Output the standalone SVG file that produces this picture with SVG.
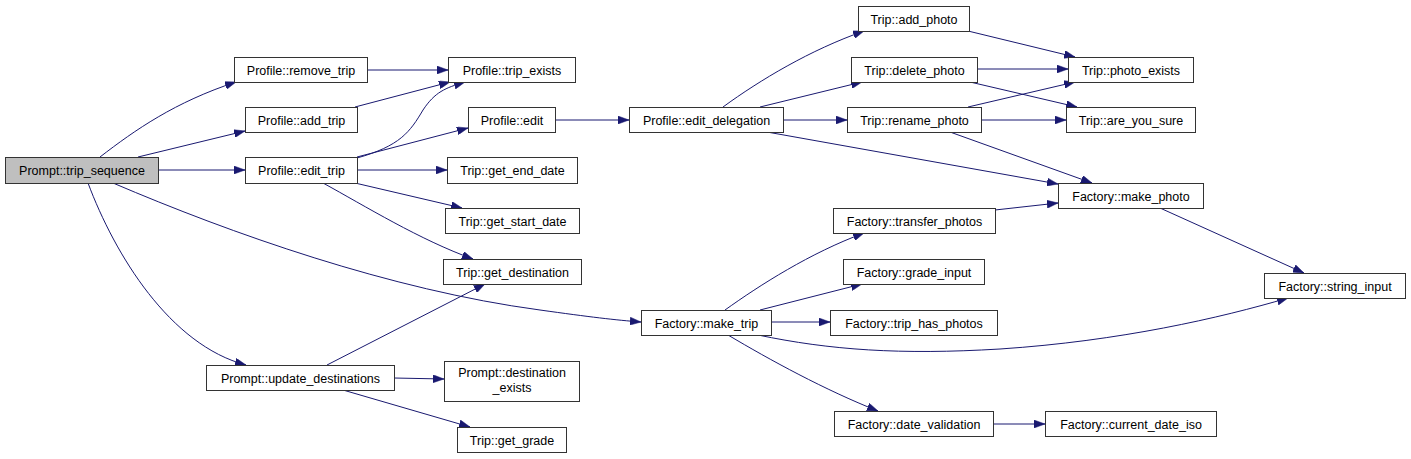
<svg xmlns="http://www.w3.org/2000/svg" width="1411" height="459" viewBox="0 0 1411 459">
<defs>
<style>
.n rect{fill:#ffffff;stroke:#333333;stroke-width:1}
.n.root rect{fill:#bfbfbf}
.n text{font-family:"Liberation Sans",Arial,sans-serif;font-size:12.5px;fill:#000000;text-anchor:middle}
.e path{fill:none;stroke:#191970;stroke-width:1;marker-end:url(#ah)}
</style>
<marker id="ah" viewBox="0 0 11 8" refX="11" refY="4" markerWidth="11" markerHeight="8" orient="auto" markerUnits="userSpaceOnUse">
<path d="M0,0 L11,4 L0,8 z" fill="#191970" stroke="#191970" stroke-width="0.5"/>
</marker>
</defs>
<rect width="1411" height="459" fill="#ffffff"/>
<g id="edges" class="e">
<path d="M100,157 C135,130 175,102 236,82"/>
<path d="M138,157 L245,131"/>
<path d="M158,170 L245,170"/>
<path d="M113,183 C230,233 390,290 540,310 C590,317 615,320 641,322"/>
<path d="M88,183 C115,255 170,345 246,365"/>
<path d="M367,70 L448,70"/>
<path d="M355,107 L450,82"/>
<path d="M357,158 C400,146 410,132 423,110 C435,92 445,88 465,82"/>
<path d="M357,157 L468,128"/>
<path d="M357,170 L447,170"/>
<path d="M355,183 L462,208"/>
<path d="M323,183 C365,206 420,240 473,259"/>
<path d="M327,365 L485,284"/>
<path d="M394,378 L444,379"/>
<path d="M343,390 L470,427"/>
<path d="M555,120 L629,120"/>
<path d="M723,107 C760,80 810,50 864,31"/>
<path d="M760,107 L862,82"/>
<path d="M783,120 L847,120"/>
<path d="M767,132 L1058,184"/>
<path d="M977,69 L1068,69"/>
<path d="M970,82 L1077,107"/>
<path d="M968,31 L1075,57"/>
<path d="M968,107 L1075,82"/>
<path d="M981,120 L1066,120"/>
<path d="M950,132 L1092,183"/>
<path d="M1160,208 L1304,273"/>
<path d="M725,310 C760,285 810,253 864,233"/>
<path d="M760,310 L862,284"/>
<path d="M771,322 L830,322"/>
<path d="M758,335 C830,350 900,355 1000,349 C1120,341 1220,318 1288,298"/>
<path d="M728,335 C770,360 825,390 878,411"/>
<path d="M993,424 L1045,424"/>
<path d="M995,210 L1058,203"/>
</g>
<g id="n_trip_sequence" class="n root"><rect x="5.5" y="157.5" width="153" height="26"/><text x="82" y="175">Prompt::trip_sequence</text></g>
<g id="n_remove_trip" class="n"><rect x="234.5" y="57.5" width="133" height="25"/><text x="301" y="74.5">Profile::remove_trip</text></g>
<g id="n_add_trip" class="n"><rect x="245.5" y="107.5" width="112" height="25"/><text x="301.5" y="124.5">Profile::add_trip</text></g>
<g id="n_edit_trip" class="n"><rect x="245.5" y="157.5" width="112" height="26"/><text x="301.5" y="175">Profile::edit_trip</text></g>
<g id="n_trip_exists" class="n"><rect x="448.5" y="57.5" width="127" height="25"/><text x="512" y="74.5">Profile::trip_exists</text></g>
<g id="n_edit" class="n"><rect x="468.5" y="107.5" width="87" height="25"/><text x="512" y="124.5">Profile::edit</text></g>
<g id="n_get_end_date" class="n"><rect x="447.5" y="157.5" width="130" height="26"/><text x="512.5" y="175">Trip::get_end_date</text></g>
<g id="n_get_start_date" class="n"><rect x="445.5" y="208.5" width="134" height="25"/><text x="512.5" y="225.5">Trip::get_start_date</text></g>
<g id="n_get_destination" class="n"><rect x="443.5" y="259.5" width="138" height="25"/><text x="512.5" y="276.5">Trip::get_destination</text></g>
<g id="n_update_destinations" class="n"><rect x="206.5" y="365.5" width="188" height="25"/><text x="300.5" y="382.5">Prompt::update_destinations</text></g>
<g id="n_destination_exists" class="n"><rect x="444.5" y="361.5" width="135" height="40"/><text x="512" y="377">Prompt::destination</text><text x="512" y="392">_exists</text></g>
<g id="n_get_grade" class="n"><rect x="457.5" y="427.5" width="109" height="25"/><text x="512" y="444.5">Trip::get_grade</text></g>
<g id="n_add_photo" class="n"><rect x="858.5" y="6.5" width="111" height="25"/><text x="914" y="23.5">Trip::add_photo</text></g>
<g id="n_delete_photo" class="n"><rect x="851.5" y="57.5" width="126" height="25"/><text x="914.5" y="74.5">Trip::delete_photo</text></g>
<g id="n_edit_delegation" class="n"><rect x="629.5" y="107.5" width="154" height="25"/><text x="706.5" y="124.5">Profile::edit_delegation</text></g>
<g id="n_rename_photo" class="n"><rect x="847.5" y="107.5" width="134" height="25"/><text x="914.5" y="124.5">Trip::rename_photo</text></g>
<g id="n_photo_exists" class="n"><rect x="1068.5" y="57.5" width="125" height="25"/><text x="1131" y="74.5">Trip::photo_exists</text></g>
<g id="n_are_you_sure" class="n"><rect x="1066.5" y="107.5" width="129" height="25"/><text x="1131" y="124.5">Trip::are_you_sure</text></g>
<g id="n_make_photo" class="n"><rect x="1058.5" y="183.5" width="145" height="25"/><text x="1131" y="200.5">Factory::make_photo</text></g>
<g id="n_string_input" class="n"><rect x="1264.5" y="273.5" width="141" height="25"/><text x="1335" y="290.5">Factory::string_input</text></g>
<g id="n_transfer_photos" class="n"><rect x="833.5" y="208.5" width="162" height="25"/><text x="914.5" y="225.5">Factory::transfer_photos</text></g>
<g id="n_grade_input" class="n"><rect x="843.5" y="259.5" width="141" height="25"/><text x="914" y="276.5">Factory::grade_input</text></g>
<g id="n_make_trip" class="n"><rect x="641.5" y="310.5" width="130" height="25"/><text x="706.5" y="327.5">Factory::make_trip</text></g>
<g id="n_trip_has_photos" class="n"><rect x="830.5" y="310.5" width="167" height="25"/><text x="914" y="327.5">Factory::trip_has_photos</text></g>
<g id="n_date_validation" class="n"><rect x="834.5" y="411.5" width="159" height="25"/><text x="914" y="428.5">Factory::date_validation</text></g>
<g id="n_current_date_iso" class="n"><rect x="1045.5" y="411.5" width="171" height="25"/><text x="1131" y="428.5">Factory::current_date_iso</text></g>
</svg>
